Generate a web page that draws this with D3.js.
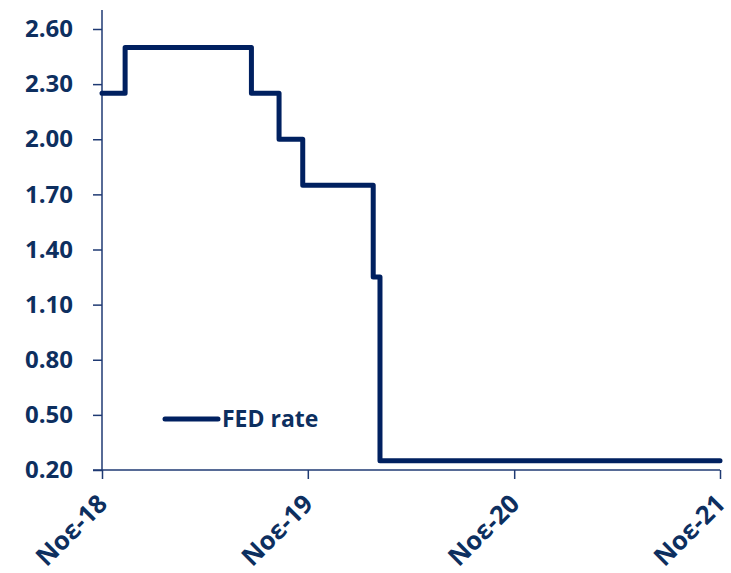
<!DOCTYPE html>
<html>
<head>
<meta charset="utf-8">
<script src="https://cdn.jsdelivr.net/npm/d3@7"></script>
<style>
  html, body { margin: 0; padding: 0; background: #ffffff; }
  svg { display: block; }
  text { font-family: "Open Sans", "DejaVu Sans", sans-serif; font-weight: 700; fill: #0d2f5f; }
</style>
</head>
<body>
<svg id="chart" width="731" height="573"></svg>
<script>
// ---- Data (FED target rate, upper bound, at FOMC decision dates) ----
const dates = [
  "2018-11-08", "2018-12-19", "2019-01-30", "2019-03-20", "2019-05-01", "2019-06-19",
  "2019-07-31", "2019-09-18", "2019-10-30", "2019-12-11", "2020-01-29", "2020-03-03",
  "2020-03-15", "2020-04-29", "2020-06-10", "2020-07-29", "2020-09-16", "2020-11-05",
  "2020-12-16", "2021-01-27", "2021-03-17", "2021-04-28", "2021-06-16", "2021-07-28",
  "2021-09-22", "2021-11-03", "2021-11-08"
];
const rates = [
  2.25, 2.50, 2.50, 2.50, 2.50, 2.50,
  2.25, 2.00, 1.75, 1.75, 1.75, 1.25,
  0.25, 0.25, 0.25, 0.25, 0.25, 0.25,
  0.25, 0.25, 0.25, 0.25, 0.25, 0.25,
  0.25, 0.25, 0.25
];
const seriesName = "FED rate";
const yTicks = [0.20, 0.50, 0.80, 1.10, 1.40, 1.70, 2.00, 2.30, 2.60];
const xTickDates = ["2018-11-08", "2019-11-08", "2020-11-08", "2021-11-08"];
const xTickLabels = ["Noε-18", "Noε-19", "Noε-20", "Noε-21"];

// ---- Layout ----
const navy = "#002060";
const axisColor = "#1f3a73";
const parse = d3.timeParse("%Y-%m-%d");
const data = dates.map((d, i) => ({ date: parse(d), value: rates[i] }));

const mLeft = 102, mRight = 720, mTop = 29, mBottom = 470;
const svg = d3.select("#chart");

const x = d3.scaleTime()
  .domain([parse(xTickDates[0]), parse(xTickDates[xTickDates.length - 1])])
  .range([mLeft, mRight]);
const y = d3.scaleLinear().domain([0.20, 2.60]).range([mBottom, mTop]);

// Y axis
const yAxis = svg.append("g")
  .attr("transform", `translate(${mLeft},0)`)
  .call(d3.axisLeft(y).tickValues(yTicks).tickFormat(d3.format(".2f")).tickSize(9).tickPadding(20));
yAxis.select(".domain").remove();
yAxis.selectAll(".tick line").attr("stroke", axisColor).attr("stroke-width", 1.5);
yAxis.selectAll(".tick text").attr("font-size", 24).attr("fill", "#0d2f5f")
  .style("font-family", "'Open Sans', sans-serif").style("font-weight", 700);
svg.append("line")
  .attr("x1", mLeft).attr("x2", mLeft).attr("y1", 10).attr("y2", mBottom)
  .attr("stroke", axisColor).attr("stroke-width", 1.5);

// X axis
const xAxis = svg.append("g")
  .attr("transform", `translate(0,${mBottom})`)
  .call(d3.axisBottom(x).tickValues(xTickDates.map(parse))
    .tickFormat((d, i) => xTickLabels[i]).tickSize(9).tickPadding(14));
xAxis.select(".domain").remove();
xAxis.selectAll(".tick line").attr("stroke", axisColor).attr("stroke-width", 1.5);
xAxis.selectAll(".tick text")
  .attr("font-size", 25.5).attr("fill", "#0d2f5f")
  .style("font-family", "'Open Sans', sans-serif").style("font-weight", 700)
  .attr("text-anchor", "end")
  .attr("dy", "0.35em")
  .attr("transform", "translate(0,29) rotate(-45)")
  .attr("y", 0).attr("x", 0);
svg.append("line")
  .attr("x1", mLeft - 9).attr("x2", mRight).attr("y1", mBottom).attr("y2", mBottom)
  .attr("stroke", axisColor).attr("stroke-width", 1.5);

// Step line
const line = d3.line()
  .x(d => x(d.date))
  .y(d => y(d.value))
  .curve(d3.curveStepAfter);
svg.append("path")
  .datum(data)
  .attr("d", line)
  .attr("fill", "none")
  .attr("stroke", navy)
  .attr("stroke-width", 5)
  .attr("stroke-linejoin", "round")
  .attr("stroke-linecap", "round");

// Legend
const leg = svg.append("g").attr("transform", "translate(165,419)");
leg.append("line").attr("x1", 0).attr("x2", 53).attr("y1", 0).attr("y2", 0)
  .attr("stroke", navy).attr("stroke-width", 5).attr("stroke-linecap", "round");
leg.append("text").attr("x", 57).attr("y", 0).attr("dy", "0.35em")
  .attr("font-size", 23).text(seriesName);
</script>
</body>
</html>
